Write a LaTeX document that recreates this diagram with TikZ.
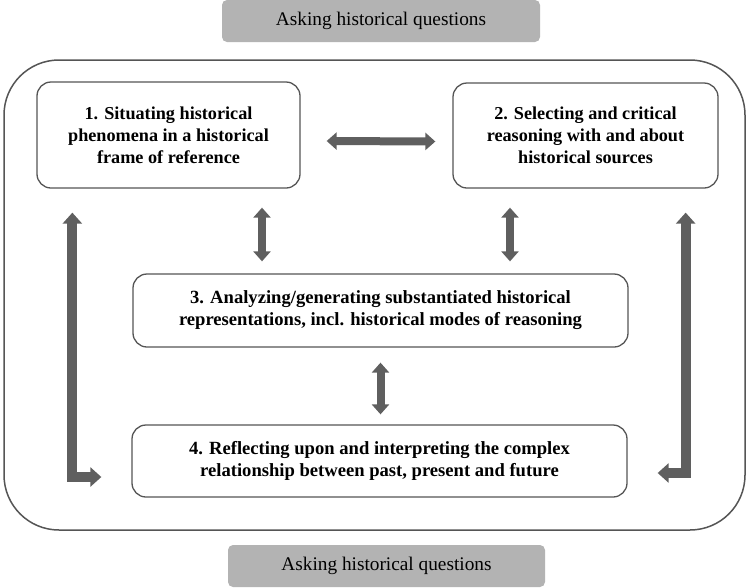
\documentclass[tikz,border=0pt]{standalone}
\usepackage{fontspec}
\setmainfont{Liberation Serif}
\usetikzlibrary{arrows.meta,calc}
\definecolor{boxc}{HTML}{555555}
\definecolor{arrc}{HTML}{5F5F5F}
\definecolor{askc}{HTML}{B3B3B3}
\begin{document}
\begin{tikzpicture}[x=1pt,y=-1pt,
  box/.style={draw=boxc, line width=1.3pt, rounded corners=14pt, align=center,
    font=\bfseries\fontsize{18.2}{21.8}\selectfont, inner sep=0pt},
  widebox/.style={box, font=\bfseries\fontsize{18.6}{22}\selectfont},
  ask/.style={fill=askc, rounded corners=5pt, inner sep=0pt,
    font=\fontsize{19.3}{21}\selectfont},
  frame/.style={draw=boxc, line width=1.5pt, rounded corners=55pt, inner sep=0pt},
  arr/.style={draw=arrc, line width=8pt,
    {Triangle[width=17pt,length=10pt]}-{Triangle[width=17pt,length=10pt]}},
  arrL/.style={draw=arrc, line width=10pt, line join=miter,
    {Triangle[width=19pt,length=11pt]}-{Triangle[width=19pt,length=11pt]}}
]
\useasboundingbox (0,0) rectangle (749,587);
\node[frame, minimum width=741pt, minimum height=470pt] (fr) at (374.5,295) {};
\node[ask, minimum width=318pt, minimum height=42pt] (ask1) at (381,21) {Asking historical questions};
\node[ask, minimum width=317pt, minimum height=42pt] (ask2) at (386.5,566) {Asking historical questions};
\node[box, minimum width=263pt, minimum height=106pt] (b1) at (168.5,135)
  {1. Situating historical\\phenomena in a historical\\frame of reference};
\node[box, minimum width=265pt, minimum height=105pt] (b2) at (585.5,135.5)
  {2. Selecting and critical\\reasoning with and about\\historical sources};
\node[widebox, minimum width=495pt, minimum height=73pt] (b3) at (380.5,310.5)
  {3. Analyzing/generating substantiated historical\\representations, incl. historical modes of reasoning};
\node[widebox, minimum width=495pt, minimum height=72pt] (b4) at (379.5,461)
  {4. Reflecting upon and interpreting the complex\\relationship between past, present and future};
% connectors
\draw[arr] ($(b1.east)+(26,6)$) -- ($(b2.west)+(-17,6)$);
\draw[arr] ($(b1.south)+(93.5,19)$) -- ($(b3.north)+(-118.5,-12)$);
\draw[arr] ($(b2.south)+(-75.5,19)$) -- ($(b3.north)+(129.5,-12)$);
\draw[arr] ($(b3.south)+(0,15)$) -- ($(b4.north)+(1,-10)$);
\coordinate (lt) at ($(b1.south west)+(36,24)$);
\coordinate (le) at ($(b4.west)+(-30,16)$);
\draw[arrL] (lt) -- (lt |- le) -- (le);
\coordinate (rt) at ($(b2.south east)+(-33,24)$);
\coordinate (re) at ($(b4.east)+(30,12)$);
\draw[arrL] (rt) -- (rt |- re) -- (re);
\end{tikzpicture}
\end{document}
